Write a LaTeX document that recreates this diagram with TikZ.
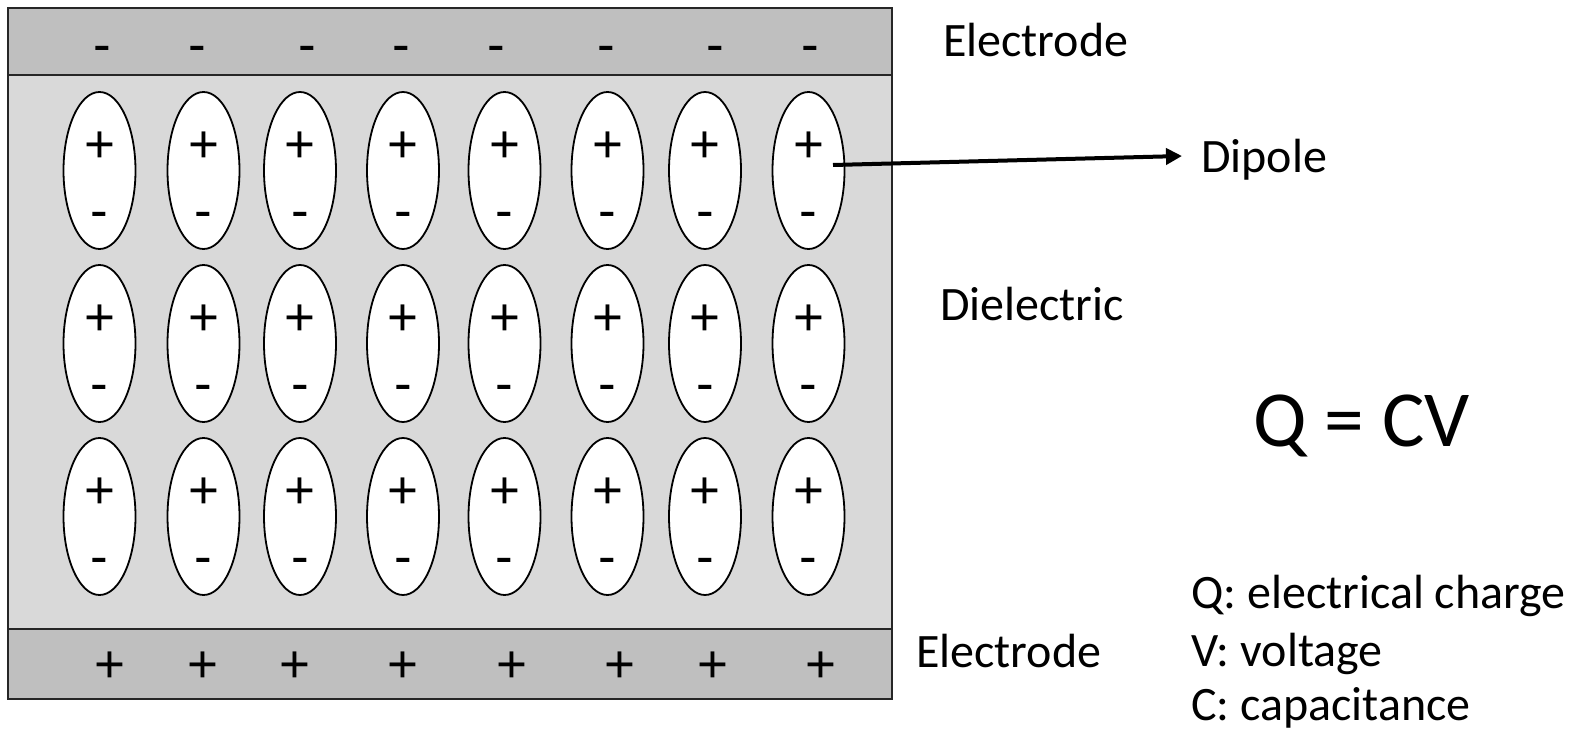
\documentclass[tikz,border=0pt]{standalone}
\usepackage{fontspec}
\setmainfont{Carlito}
\newfontfamily\signfont{Liberation Sans}
\usetikzlibrary{shapes.geometric,arrows.meta}
\definecolor{electrodegray}{RGB}{191,191,191}
\definecolor{dielgray}{RGB}{217,217,217}
\begin{document}
\begin{tikzpicture}[x=1pt,y=-1pt,
  dipolebox/.style={ellipse,draw=black,line width=1.8pt,fill=white,minimum width=72pt,minimum height=157pt,inner sep=0pt,outer sep=0pt},
  chg/.style={font=\signfont\fontsize{53}{53}\selectfont,inner sep=0pt,anchor=base},
  lbl/.style={font=\fontsize{48}{52}\selectfont,inner sep=0pt,anchor=base west},
  pointer/.style={line width=4pt,-{Triangle[length=16pt,width=16pt]}},
  frame/.style={line width=2pt,draw=black!85}
]
\useasboundingbox (0,0) rectangle (1581,733);
\fill[white] (0,0) rectangle (1581,733);
% capacitor body
\fill[dielgray] (8,8) rectangle (892,699);
\fill[electrodegray] (8,8) rectangle (892,75);
\fill[electrodegray] (8,629) rectangle (892,699);
\draw[frame] (8,8) rectangle (892,699);
\draw[frame] (8,75) -- (892,75);
\draw[frame] (8,629) -- (892,629);
% electrode charges
\foreach \x [count=\c] in {102,197,307,401,496,606,715,810}
  \node[chg] (tm\c) at (\x,62.4) {-};
\foreach \x [count=\c] in {110,203,295,403,512,620,713,821}
  \node[chg] (bp\c) at (\x,682.7) {+};
% dipoles
\foreach \x [count=\c] in {99.5,203.5,300,403,504.5,607.5,705,808.5} {
  \foreach \y [count=\r] in {170.5,343.5,516.5} {
    \node[dipolebox] (e\r\c) at (\x,\y) {};
    \node[chg] (p\r\c) at (\x,\y-8.1) {+};
    \node[chg] (m\r\c) at (\x,\y+57.9) {-};
  }
}
% labels
\node[lbl] (electop) at (943,57) {Electrode};
\node[lbl] (dipolelbl) at (1201,172) {Dipole};
\node[lbl] (dielbl) at (940,320) {Dielectric};
\node[lbl] (elecbot) at (916,667) {Electrode};
\node[lbl,font=\fontsize{79.5}{82}\selectfont] (eqn) at (1253,446) {Q = CV};
\node[lbl] (qdef) at (1191,608) {Q: electrical charge};
\node[lbl] (vdef) at (1191,666) {V: voltage};
\node[lbl] (cdef) at (1191,720) {C: capacitance};
% pointer
\coordinate (dend) at (1182,156);
\draw[pointer] ([shift={(24.5,-5.5)}]e18.center) -- (dend);
\end{tikzpicture}
\end{document}
